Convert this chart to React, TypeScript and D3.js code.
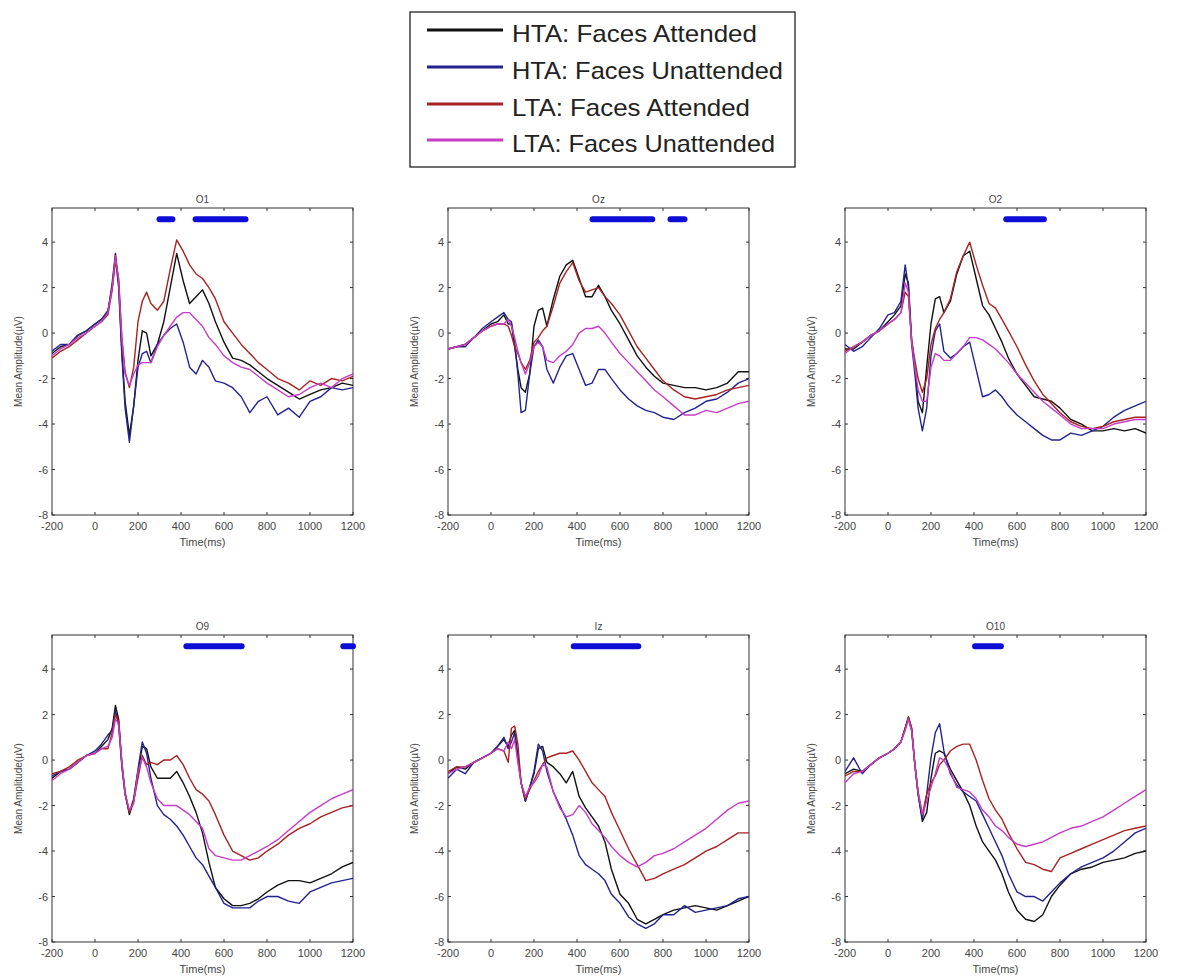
import React from 'react';
import * as d3 from 'd3';

// time points (ms) shared by every waveform
const TIMES = [-200, -160, -120, -80, -40, 0, 30, 60, 80, 95, 110, 125, 140, 160, 180, 200, 220, 240, 260, 290, 320, 350, 380, 410, 440, 470, 500, 530, 560, 600, 640, 680, 720, 760, 800, 850, 900, 950, 1000, 1050, 1100, 1150, 1200];

const X_TICKS = [-200, 0, 200, 400, 600, 800, 1000, 1200];
const Y_TICKS = [-8, -6, -4, -2, 0, 2, 4];

const SERIES_NAMES = ['HTA: Faces Attended', 'HTA: Faces Unattended', 'LTA: Faces Attended', 'LTA: Faces Unattended'];
const SERIES_COLORS = ['#111111', '#23238f', '#a82222', '#c63cc6'];

// O1
const O1_HTA_ATT = [-0.9, -0.6, -0.5, -0.1, 0.1, 0.4, 0.6, 0.9, 2.2, 3.5, 2.2, -0.8, -3.0, -4.5, -3.2, -1.2, 0.1, 0.0, -1.0, -0.5, 0.5, 2.0, 3.5, 2.3, 1.3, 1.6, 1.9, 1.3, 0.5, -0.4, -1.1, -1.2, -1.4, -1.7, -2.0, -2.3, -2.6, -2.9, -2.7, -2.5, -2.4, -2.2, -2.3];
const O1_HTA_UNATT = [-0.8, -0.5, -0.5, -0.1, 0.1, 0.4, 0.6, 1.0, 2.0, 3.3, 2.0, -1.0, -3.3, -4.8, -3.2, -1.5, -0.9, -0.8, -1.3, -0.5, -0.1, 0.2, 0.4, -0.4, -1.5, -1.8, -1.2, -1.5, -2.1, -2.2, -2.4, -2.8, -3.5, -3.0, -2.8, -3.6, -3.3, -3.7, -3.0, -2.8, -2.4, -2.5, -2.4];
const O1_LTA_ATT = [-1.1, -0.8, -0.6, -0.3, 0.0, 0.3, 0.5, 0.8, 1.9, 3.2, 2.4, -0.2, -1.7, -2.4, -1.5, 0.5, 1.4, 1.8, 1.3, 1.0, 1.4, 2.8, 4.1, 3.6, 3.0, 2.6, 2.4, 2.0, 1.5, 0.5, 0.0, -0.5, -0.9, -1.3, -1.6, -2.0, -2.2, -2.5, -2.1, -2.3, -2.0, -2.1, -1.9];
const O1_LTA_UNATT = [-1.0, -0.7, -0.5, -0.2, 0.0, 0.3, 0.5, 0.9, 2.0, 3.4, 2.3, -0.3, -1.8, -2.3, -1.8, -1.4, -1.3, -1.3, -1.3, -0.6, -0.1, 0.3, 0.7, 0.9, 0.9, 0.6, 0.3, -0.2, -0.5, -1.0, -1.3, -1.5, -1.6, -1.9, -2.2, -2.5, -2.8, -2.7, -2.4, -2.2, -2.4, -2.0, -1.8];

// Oz
const OZ_HTA_ATT = [-0.7, -0.6, -0.5, -0.2, 0.1, 0.4, 0.5, 0.8, 0.4, 0.4, -0.6, -1.6, -2.4, -2.6, -1.8, 0.3, 1.0, 1.1, 0.3, 1.5, 2.5, 3.0, 3.2, 2.4, 1.6, 1.6, 2.1, 1.6, 1.0, 0.4, -0.3, -1.0, -1.5, -1.9, -2.2, -2.3, -2.4, -2.4, -2.5, -2.4, -2.2, -1.7, -1.7];
const OZ_HTA_UNATT = [-0.7, -0.6, -0.6, -0.2, 0.2, 0.5, 0.7, 0.9, 0.6, 0.5, -0.4, -1.8, -3.5, -3.4, -1.8, -0.6, -0.3, -0.6, -1.6, -2.2, -1.5, -1.0, -0.9, -1.6, -2.3, -2.2, -1.6, -1.6, -2.0, -2.5, -2.9, -3.2, -3.4, -3.5, -3.7, -3.8, -3.5, -3.3, -3.0, -2.9, -2.6, -2.2, -2.0];
const OZ_LTA_ATT = [-0.7, -0.6, -0.5, -0.2, 0.1, 0.3, 0.4, 0.4, 0.3, -0.1, -0.6, -0.9, -1.3, -1.6, -1.2, -0.4, -0.2, 0.1, 0.3, 1.2, 2.2, 2.7, 3.1, 2.3, 1.8, 1.9, 2.0, 1.6, 1.3, 0.8, 0.1, -0.6, -1.1, -1.6, -2.1, -2.5, -2.8, -2.9, -2.8, -2.7, -2.5, -2.4, -2.3];
const OZ_LTA_UNATT = [-0.7, -0.6, -0.5, -0.2, 0.1, 0.3, 0.4, 0.4, 0.6, 0.3, -0.2, -0.8, -1.3, -1.8, -1.3, -0.6, -0.4, -0.6, -1.2, -1.3, -1.0, -0.8, -0.5, 0.0, 0.2, 0.2, 0.3, 0.0, -0.4, -0.9, -1.3, -1.7, -2.1, -2.5, -2.8, -3.2, -3.6, -3.6, -3.4, -3.5, -3.3, -3.1, -3.0];

// O2
const O2_HTA_ATT = [-0.7, -0.7, -0.4, -0.1, 0.1, 0.5, 0.8, 1.2, 2.6, 2.2, -0.3, -1.5, -3.0, -3.5, -1.5, 0.4, 1.5, 1.6, 0.9, 1.4, 2.6, 3.4, 3.6, 2.4, 1.2, 0.8, 0.2, -0.4, -1.1, -1.8, -2.3, -2.8, -2.9, -3.0, -3.3, -3.8, -4.0, -4.3, -4.3, -4.2, -4.3, -4.2, -4.4];
const O2_HTA_UNATT = [-0.5, -0.8, -0.6, -0.2, 0.2, 0.8, 0.9, 1.4, 3.0, 2.0, -0.5, -1.8, -3.3, -4.3, -3.3, -1.0, 0.1, 0.4, -0.8, -1.1, -0.9, -0.6, -0.4, -1.6, -2.8, -2.7, -2.5, -2.8, -3.2, -3.6, -3.9, -4.2, -4.5, -4.7, -4.7, -4.4, -4.5, -4.3, -4.1, -3.7, -3.4, -3.2, -3.0];
const O2_LTA_ATT = [-0.8, -0.6, -0.4, -0.1, 0.1, 0.4, 0.6, 0.9, 1.8, 1.6, -0.3, -1.2, -2.0, -2.6, -2.0, -0.5, 0.2, 0.6, 0.9, 1.5, 2.7, 3.4, 4.0, 3.0, 2.1, 1.3, 1.1, 0.6, 0.1, -0.6, -1.4, -2.1, -2.7, -3.1, -3.5, -3.9, -4.1, -4.2, -4.1, -3.9, -3.8, -3.7, -3.7];
const O2_LTA_UNATT = [-0.9, -0.6, -0.4, -0.1, 0.1, 0.4, 0.6, 0.9, 2.2, 1.8, -0.4, -1.5, -2.5, -3.0, -3.0, -1.5, -0.9, -1.0, -1.2, -1.2, -0.9, -0.6, -0.2, -0.2, -0.3, -0.5, -0.7, -1.0, -1.3, -1.8, -2.2, -2.6, -3.0, -3.3, -3.6, -4.0, -4.2, -4.2, -4.2, -4.0, -3.9, -3.8, -3.8];

// O9
const O9_HTA_ATT = [-0.8, -0.5, -0.4, -0.1, 0.2, 0.3, 0.6, 0.9, 1.4, 2.4, 1.8, -0.2, -1.5, -2.4, -1.8, -0.5, 0.6, 0.5, -0.3, -0.8, -0.8, -0.8, -0.5, -1.0, -1.6, -2.3, -3.2, -4.5, -5.6, -6.1, -6.4, -6.4, -6.3, -6.1, -5.8, -5.5, -5.3, -5.3, -5.4, -5.2, -5.0, -4.7, -4.5];
const O9_HTA_UNATT = [-0.7, -0.5, -0.4, -0.1, 0.2, 0.4, 0.7, 1.1, 1.3, 2.2, 1.5, -0.3, -1.5, -2.3, -1.7, -0.4, 0.8, 0.3, -0.8, -2.0, -2.4, -2.6, -2.9, -3.3, -3.8, -4.3, -4.6, -5.1, -5.6, -6.3, -6.5, -6.5, -6.5, -6.2, -6.0, -6.0, -6.2, -6.3, -5.8, -5.6, -5.4, -5.3, -5.2];
const O9_LTA_ATT = [-0.6, -0.5, -0.3, 0.0, 0.2, 0.3, 0.5, 0.5, 1.2, 2.0, 1.7, -0.1, -1.4, -2.3, -1.8, -0.8, 0.2, -0.2, -0.1, -0.2, 0.0, 0.0, 0.2, -0.2, -0.8, -1.3, -1.5, -1.8, -2.4, -3.3, -4.0, -4.2, -4.4, -4.3, -4.0, -3.7, -3.3, -3.0, -2.8, -2.5, -2.3, -2.1, -2.0];
const O9_LTA_UNATT = [-0.9, -0.6, -0.4, -0.1, 0.2, 0.3, 0.5, 0.6, 1.0, 1.8, 1.6, -0.1, -1.5, -2.2, -1.9, -0.5, 0.1, -0.3, -1.0, -1.7, -2.0, -2.0, -2.0, -2.2, -2.4, -2.7, -3.0, -3.9, -4.2, -4.3, -4.4, -4.4, -4.2, -4.0, -3.8, -3.5, -3.1, -2.7, -2.3, -2.0, -1.7, -1.5, -1.3];

// Iz
const IZ_HTA_ATT = [-0.6, -0.3, -0.4, -0.1, 0.1, 0.3, 0.6, 0.9, 0.6, 1.1, 1.3, 0.2, -1.0, -1.8, -1.2, -0.6, 0.5, 0.6, -0.1, -0.3, -0.6, -1.0, -0.5, -1.6, -2.1, -2.5, -2.9, -3.6, -4.8, -5.9, -6.3, -7.0, -7.2, -7.0, -6.8, -6.6, -6.5, -6.4, -6.5, -6.6, -6.4, -6.2, -6.0];
const IZ_HTA_UNATT = [-0.8, -0.4, -0.6, -0.1, 0.1, 0.3, 0.6, 1.0, 0.5, 0.8, 1.2, 0.0, -1.0, -1.8, -1.2, -0.5, 0.7, 0.4, -0.5, -1.4, -2.0, -2.6, -3.3, -4.2, -4.6, -4.8, -5.0, -5.3, -5.9, -6.3, -6.9, -7.2, -7.4, -7.2, -6.8, -6.8, -6.4, -6.7, -6.6, -6.5, -6.4, -6.1, -6.0];
const IZ_LTA_ATT = [-0.5, -0.3, -0.3, -0.1, 0.1, 0.3, 0.5, 0.4, -0.1, 1.4, 1.5, 0.7, -1.0, -1.7, -1.3, -0.9, -0.5, -0.2, 0.1, 0.2, 0.3, 0.3, 0.4, 0.0, -0.5, -1.0, -1.3, -1.6, -2.3, -3.1, -3.9, -4.6, -5.3, -5.2, -5.0, -4.8, -4.6, -4.3, -4.0, -3.8, -3.5, -3.2, -3.2];
const IZ_LTA_UNATT = [-0.6, -0.4, -0.3, -0.1, 0.1, 0.3, 0.5, 0.4, 0.8, 0.5, 0.9, -0.1, -1.0, -1.6, -1.2, -1.0, -0.7, -0.2, -0.3, -1.4, -2.1, -2.5, -2.4, -2.0, -2.3, -2.8, -3.1, -3.4, -3.8, -4.2, -4.5, -4.7, -4.5, -4.2, -4.1, -3.9, -3.6, -3.3, -3.0, -2.6, -2.2, -1.9, -1.8];

// O10
const O10_HTA_ATT = [-0.6, -0.4, -0.5, -0.2, 0.1, 0.3, 0.5, 0.8, 1.4, 1.9, 1.4, -0.2, -1.5, -2.7, -2.3, -0.8, 0.3, 0.4, 0.3, -0.4, -0.9, -1.4, -2.0, -2.9, -3.6, -4.0, -4.4, -5.0, -5.8, -6.6, -7.0, -7.1, -6.8, -6.0, -5.5, -5.0, -4.8, -4.7, -4.5, -4.4, -4.3, -4.1, -4.0];
const O10_HTA_UNATT = [-0.5, 0.1, -0.6, -0.2, 0.1, 0.3, 0.5, 0.8, 1.4, 1.8, 1.3, -0.2, -1.5, -2.6, -1.5, 0.1, 1.2, 1.6, 0.4, -0.6, -1.1, -1.4, -1.6, -1.8, -2.4, -3.0, -3.6, -4.2, -5.0, -5.8, -6.0, -6.0, -6.2, -5.8, -5.4, -5.0, -4.7, -4.5, -4.3, -4.0, -3.6, -3.2, -3.0];
const O10_LTA_ATT = [-0.7, -0.5, -0.5, -0.2, 0.1, 0.3, 0.5, 0.8, 1.4, 1.9, 1.4, -0.2, -1.4, -2.4, -1.5, -1.0, -0.7, -0.2, 0.0, 0.4, 0.6, 0.7, 0.7, 0.0, -0.9, -1.7, -2.2, -2.6, -3.2, -3.9, -4.5, -4.6, -4.8, -4.9, -4.3, -4.1, -3.9, -3.7, -3.5, -3.3, -3.1, -3.0, -2.9];
const O10_LTA_UNATT = [-1.0, -0.6, -0.5, -0.2, 0.1, 0.3, 0.5, 0.8, 1.3, 1.8, 1.3, -0.2, -1.4, -2.4, -1.8, -1.2, -0.6, 0.1, 0.0, -0.5, -1.2, -1.3, -1.4, -1.7, -2.2, -2.5, -2.9, -3.1, -3.4, -3.7, -3.8, -3.7, -3.6, -3.4, -3.2, -3.0, -2.9, -2.7, -2.5, -2.2, -1.9, -1.6, -1.3];

// significant time windows (ms), drawn as the blue bar at 5 uV
const SIG_O1 = [[300, 360], [468, 700]];
const SIG_OZ = [[472, 750], [835, 900]];
const SIG_O2 = [[550, 725]];
const SIG_O9 = [[425, 682], [1155, 1200]];
const SIG_IZ = [[385, 685]];
const SIG_O10 = [[405, 525]];

const panels = [
  { name: 'O1', series: [O1_HTA_ATT, O1_HTA_UNATT, O1_LTA_ATT, O1_LTA_UNATT], sig: SIG_O1 },
  { name: 'Oz', series: [OZ_HTA_ATT, OZ_HTA_UNATT, OZ_LTA_ATT, OZ_LTA_UNATT], sig: SIG_OZ },
  { name: 'O2', series: [O2_HTA_ATT, O2_HTA_UNATT, O2_LTA_ATT, O2_LTA_UNATT], sig: SIG_O2 },
  { name: 'O9', series: [O9_HTA_ATT, O9_HTA_UNATT, O9_LTA_ATT, O9_LTA_UNATT], sig: SIG_O9 },
  { name: 'Iz', series: [IZ_HTA_ATT, IZ_HTA_UNATT, IZ_LTA_ATT, IZ_LTA_UNATT], sig: SIG_IZ },
  { name: 'O10', series: [O10_HTA_ATT, O10_HTA_UNATT, O10_LTA_ATT, O10_LTA_UNATT], sig: SIG_O10 },
];

const FONT = '"Liberation Sans", Arial, sans-serif';
const colLeft = [52, 448, 845];
const rowTop = [208, 635];
const plotW = 301;
const plotH = 307;

const Panel = ({ p, left, top }) => {
  const x = d3.scaleLinear().domain([-200, 1200]).range([left, left + plotW]);
  const y = d3.scaleLinear().domain([-8, 5.5]).range([top + plotH, top]);
  const line = d3.line().x((d) => x(d[0])).y((d) => y(d[1]));
  const bottom = top + plotH;
  return (
    <g>
      <rect x={left} y={top} width={plotW} height={plotH} fill="#fff" stroke="#333" strokeWidth={1} />
      {X_TICKS.map((t) => (
        <g key={'x' + t}>
          <line x1={x(t)} x2={x(t)} y1={bottom} y2={bottom - 3} stroke="#333" />
          <line x1={x(t)} x2={x(t)} y1={top} y2={top + 3} stroke="#333" />
          <text x={x(t)} y={bottom + 15} textAnchor="middle" fontSize={11} fill="#444" fontFamily={FONT}>{t}</text>
        </g>
      ))}
      {Y_TICKS.map((v) => (
        <g key={'y' + v}>
          <line x1={left} x2={left + 3} y1={y(v)} y2={y(v)} stroke="#333" />
          <line x1={left + plotW} x2={left + plotW - 3} y1={y(v)} y2={y(v)} stroke="#333" />
          <text x={left - 4} y={y(v) + 4} textAnchor="end" fontSize={11} fill="#444" fontFamily={FONT}>{v}</text>
        </g>
      ))}
      <text x={left + plotW / 2} y={top - 5} textAnchor="middle" fontSize={10} fill="#444" fontFamily={FONT}>{p.name}</text>
      <text x={left + plotW / 2} y={bottom + 31} textAnchor="middle" fontSize={11} fill="#444" fontFamily={FONT}>Time(ms)</text>
      <text transform={`translate(${left - 30},${top + plotH / 2}) rotate(-90)`} textAnchor="middle" fontSize={10} fill="#444" fontFamily={FONT}>Mean Amplitude(µV)</text>
      <g clipPath={`url(#clip-${p.name})`}>
        {p.series.map((s, i) => (
          <path key={i} d={line(TIMES.map((t, j) => [t, s[j]]))} fill="none" stroke={SERIES_COLORS[i]} strokeWidth={1.4} strokeLinejoin="round" />
        ))}
      </g>
      {p.sig.map((w, i) => (
        <line key={'s' + i} x1={x(w[0])} x2={x(w[1])} y1={y(5)} y2={y(5)} stroke="#0d0dd6" strokeWidth={6} strokeLinecap="round" />
      ))}
      <clipPath id={`clip-${p.name}`}>
        <rect x={left} y={top} width={plotW} height={plotH} />
      </clipPath>
    </g>
  );
};

const legendRows = [30, 67, 104, 140];
const legendTextW = [245, 271, 238, 263];

export default function App() {
  return (
    <svg width={1178} height={980} style={{ position: 'absolute', left: 0, top: 0, background: '#fff' }}>
      <rect x={0} y={0} width={1178} height={980} fill="#fff" />
      <rect x={410} y={12} width={385} height={155} fill="#fff" stroke="#222" strokeWidth={1.3} />
      {SERIES_NAMES.map((n, i) => (
        <g key={n}>
          <line x1={427} x2={503} y1={legendRows[i]} y2={legendRows[i]} stroke={SERIES_COLORS[i]} strokeWidth={3} />
          <text x={512} y={legendRows[i] + 12} fontSize={24} fill="#222" fontFamily={FONT} textLength={legendTextW[i]} lengthAdjust="spacingAndGlyphs">{n}</text>
        </g>
      ))}
      {panels.map((p, i) => (
        <Panel key={p.name} p={p} left={colLeft[i % 3]} top={rowTop[Math.floor(i / 3)]} />
      ))}
    </svg>
  );
}
